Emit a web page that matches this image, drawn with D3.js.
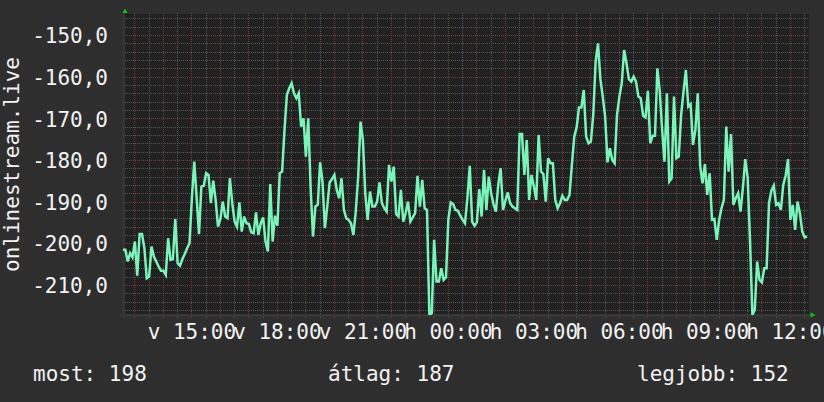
<!DOCTYPE html>
<html>
<head>
<meta charset="utf-8">
<script src="https://cdn.jsdelivr.net/npm/d3@7"></script>
<style>
  html, body { margin: 0; padding: 0; background: #2e2e2e; }
  svg { display: block; }
</style>
</head>
<body>
<svg id="chart" width="824" height="402"></svg>
<script>
// ---- data ----
const startTime = new Date(2024, 0, 14, 12, 36); // vasárnap 12:36
const stepMinutes = 5;
const values = [
  -201.6, -201.6, -204.4, -202.4, -203.4, -199.6, -207.8, -197.8, -197.8, -201.2,
  -208.4, -208, -200.8, -203.2, -204.4, -205.6, -206.6, -206.6, -207.6, -198.8,
  -204, -203.8, -194.2, -204.8, -205.4, -203.8, -202.6, -201.2, -200, -189.2,
  -180.4, -189, -197.8, -186.4, -186.2, -183.2, -183.6, -190.4, -185, -189.6,
  -196, -194.2, -190, -193.6, -194, -184.4, -190.4, -194.8,
  -196, -190.2, -197.2, -193.6, -195.2, -195.4, -197.4, -197.6, -192.6, -198,
  -195.2, -193.8, -199.6, -202, -185.8, -199.6, -193.4, -195.8, -183.2, -182.8,
  -172.8, -164.4, -162.8, -161.6, -164, -165.2, -164, -172, -170, -179.2,
  -170, -186.8, -198.4, -191.2, -190.8, -180.6, -185.2, -196.4, -191.2, -185.4,
  -184.6, -183.6, -187.2, -189.2, -184.4, -192, -194, -194.4,
  -195.2, -198, -192.4, -184.2, -170.8, -175.2, -188, -194.4, -187.6, -191.2,
  -191.2, -190, -185.4, -190.4, -191.6, -192.4, -181.2, -185.2, -181.6, -193,
  -193.6, -187.2, -194.8, -192.8, -190, -194.8, -193.8, -192.8, -183.8, -191.2,
  -184.8, -191.6, -192, -217.2, -216.8, -199.2, -209.2, -209.2, -206, -208.8,
  -208.2, -194.2, -190.2, -190.6, -192, -192.2, -193.4, -194.4, -195.2,
  -189.2, -181.4, -194.8, -195.8, -195, -187, -193.6, -182.4, -192, -184,
  -188, -190.6, -192.4, -186, -182, -192, -189.8, -187.8, -190.4, -191.2,
  -191.6, -192, -173.8, -173.8, -183.6, -175.2, -189.6, -183.6, -186.4, -189.6,
  -174, -182.8, -183.4, -190, -179.6, -180.8, -180.8, -189.6, -191.6, -190.4,
  -188.6, -189.6, -189.6, -188.4, -181.2, -174.4, -172.2, -167.4,
  -167.4, -163.2, -174.4, -176, -175.6, -169.2, -156.4, -152, -160.6, -164.8,
  -169.6, -180.6, -177.2, -180, -180.8, -169.2, -164.8, -161.6, -153.6, -156.8,
  -160.6, -161.2, -160, -161.2, -164.8, -165.2, -169.4, -169.8, -163.4, -176,
  -174.2, -174.2, -158, -163.6, -172.8, -180.4, -164, -185.2, -184.4, -164.8,
  -179.6, -179.2, -169.2, -163.6, -158.4, -167.2, -166.6, -176.4,
  -172.8, -164, -181.4, -185.6, -181, -188.4, -183.2, -194.4, -194.2, -199.2,
  -194.4, -191.6, -189.6, -172, -182.8, -173.8, -190.8, -189.2, -188, -192.4,
  -186.8, -179.8, -184.2, -199.2, -217.2, -216, -204.4, -208.8, -209.4, -206,
  -206, -190.4, -187.4, -186.2, -190.8, -190.4, -192, -186, -183.8, -179.8,
  -194.4, -190.8, -196.8, -190, -192.8, -197.2, -198.6, -198.4
];
const tickHours = [15, 18, 21, 24, 27, 30, 33, 36];
const tickLabels = ["v 15:00", "v 18:00", "v 21:00", "h 00:00", "h 03:00", "h 06:00", "h 09:00", "h 12:00"];
const yTicks = [-150, -160, -170, -180, -190, -200, -210];
const yTitle = "onlinestream.live";
const legendLabels = ["most:", "átlag:", "legjobb:"];
const legendValues = [198, 187, 152];

// ---- layout ----
const W = 824, H = 402;
const plot = { left: 123, right: 809, top: 14, bottom: 315 };
const spanMinutes = 1444.2;
const endTime = new Date(startTime.getTime() + spanMinutes * 60000);
const FONT = "'DejaVu Sans Mono', 'Liberation Mono', monospace";
const FS = "21px";

const x = d3.scaleTime().domain([startTime, endTime]).range([plot.left, plot.right]);
const y = d3.scaleLinear().domain([-217.24, -144.96]).range([plot.bottom, plot.top]);

const data = values.map((v, i) => ({ t: new Date(startTime.getTime() + i * stepMinutes * 60000), v }));
const dayStart = new Date(2024, 0, 14, 0, 0);
const tickTimes = tickHours.map(h => new Date(dayStart.getTime() + h * 3600000));

const svg = d3.select("#chart");
svg.append("rect").attr("width", W).attr("height", H).attr("fill", "#2e2e2e");
svg.append("rect")
  .attr("x", plot.left + 2).attr("y", plot.top)
  .attr("width", plot.right - plot.left - 2).attr("height", plot.bottom - plot.top - 1)
  .attr("fill", "#212121");

const grid = svg.append("g");
const px = v => Math.round(v) + 0.5;

// horizontal grid
const yMinor = d3.range(-216, -145, 2).filter(v => v % 10 !== 0);
const yMajor = d3.range(-210, -145, 10);
grid.selectAll(".hmin").data(yMinor).join("line")
  .attr("x1", plot.left).attr("x2", plot.right)
  .attr("y1", d => px(y(d))).attr("y2", d => px(y(d)))
  .attr("stroke", "#565656").attr("stroke-dasharray", "1,1");
grid.selectAll(".hmaj").data(yMajor).join("line")
  .attr("x1", plot.left).attr("x2", plot.right)
  .attr("y1", d => px(y(d))).attr("y2", d => px(y(d)))
  .attr("stroke", "#783a3a").attr("stroke-dasharray", "1,1");

// vertical grid
const xMinor = d3.timeMinute.every(30).range(startTime, endTime).filter(d => d.getMinutes() !== 0);
const xMajor = d3.timeHour.range(startTime, endTime);
grid.selectAll(".vmin").data(xMinor).join("line")
  .attr("x1", d => px(x(d))).attr("x2", d => px(x(d)))
  .attr("y1", plot.top - 1).attr("y2", plot.bottom + 3)
  .attr("stroke", "#565656").attr("stroke-dasharray", "1,1");
grid.selectAll(".vmaj").data(xMajor).join("line")
  .attr("x1", d => px(x(d))).attr("x2", d => px(x(d)))
  .attr("y1", plot.top - 1).attr("y2", plot.bottom + 3)
  .attr("stroke", "#783a3a").attr("stroke-dasharray", "1,1");

// axis lines
svg.append("line").attr("x1", plot.left - 3).attr("x2", plot.right + 1)
  .attr("y1", plot.bottom + 0.5).attr("y2", plot.bottom + 0.5)
  .attr("stroke", "#3a3a3a").attr("stroke-width", 2);
svg.append("line").attr("x1", plot.left + 1).attr("x2", plot.left + 1)
  .attr("y1", plot.top).attr("y2", plot.bottom + 3)
  .attr("stroke", "#353535").attr("stroke-width", 2);

// arrows
svg.append("polygon").attr("points", "122.5,13 127.5,13 125,8.5").attr("fill", "#00d000");
svg.append("polygon").attr("points", "810.5,312.5 810.5,317.5 815.5,315").attr("fill", "#00d000");

// line
svg.append("clipPath").attr("id", "clip").append("rect")
  .attr("x", plot.left).attr("y", plot.top)
  .attr("width", plot.right - plot.left).attr("height", plot.bottom - plot.top);
svg.append("path")
  .datum(data)
  .attr("clip-path", "url(#clip)")
  .attr("fill", "none")
  .attr("stroke", "#7af4b9")
  .attr("stroke-width", 2.5)
  .attr("stroke-linejoin", "miter")
  .attr("d", d3.line().x(d => x(d.t)).y(d => y(d.v)));

// y axis labels
const yAxis = d3.axisLeft(y).tickValues(yTicks).tickSize(0).tickPadding(0)
  .tickFormat(d => d.toFixed(1).replace(".", ","));
const gy = svg.append("g").attr("transform", "translate(108,0)").call(yAxis);
gy.select(".domain").remove();
gy.selectAll("text").attr("fill", "#f2f2f2").style("font-family", FONT).style("font-size", FS).attr("dy", "0.37em");

// x axis labels
const xAxis = d3.axisBottom(x).tickValues(tickTimes).tickSize(0).tickPadding(9)
  .tickFormat((d, i) => tickLabels[i]);
const gx = svg.append("g").attr("transform", `translate(0,${plot.bottom})`).call(xAxis);
gx.select(".domain").remove();
gx.selectAll("text").attr("fill", "#f2f2f2").style("font-family", FONT).style("font-size", FS);

// y title
svg.append("text")
  .attr("transform", `translate(19,${(plot.top + plot.bottom) / 2}) rotate(-90)`)
  .attr("text-anchor", "middle")
  .attr("fill", "#f2f2f2").style("font-family", FONT).style("font-size", FS)
  .text(yTitle);

// legend
const legendX = [33, 328, 637];
svg.selectAll(".legend").data(legendLabels).join("text")
  .attr("x", (d, i) => legendX[i]).attr("y", 381)
  .attr("fill", "#f2f2f2").style("font-family", FONT).style("font-size", FS)
  .text((d, i) => `${d} ${legendValues[i]}`);
</script>
</body>
</html>
